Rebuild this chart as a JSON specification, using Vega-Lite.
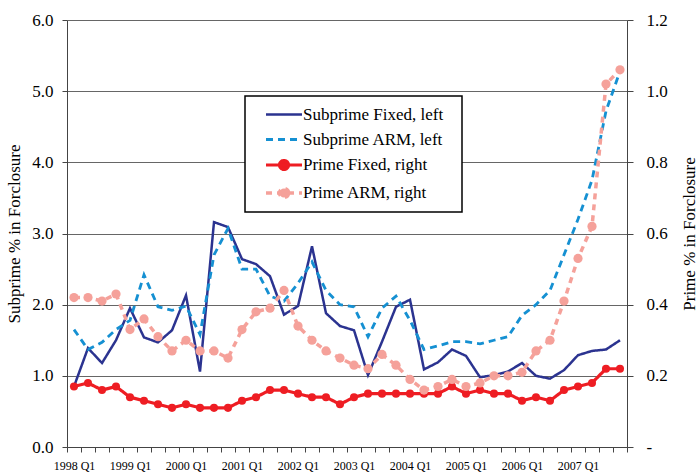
{
  "$schema": "https://vega.github.io/schema/vega-lite/v6.json",
  "width": 560,
  "height": 427,
  "autosize": {"type": "none"},
  "padding": {"left": 67, "top": 20, "right": 71, "bottom": 27},
  "background": "white",
  "config": {
    "view": {"stroke": null},
    "font": "Liberation Serif, Times New Roman, DejaVu Serif, serif",
    "axis": {"labelColor": "#000", "titleColor": "#000", "titleFontWeight": "normal", "domainColor": "#444", "tickColor": "#444"}
  },
  "data": {"values": [
    {"quarter": "1998 Q1", "t": 0, "Subprime Fixed, left": 0.85, "Subprime ARM, left": 1.65, "Prime Fixed, right": 0.17, "Prime ARM, right": 0.42},
    {"quarter": "1998 Q2", "t": 1, "Subprime Fixed, left": 1.39, "Subprime ARM, left": 1.37, "Prime Fixed, right": 0.18, "Prime ARM, right": 0.42},
    {"quarter": "1998 Q3", "t": 2, "Subprime Fixed, left": 1.18, "Subprime ARM, left": 1.47, "Prime Fixed, right": 0.16, "Prime ARM, right": 0.41},
    {"quarter": "1998 Q4", "t": 3, "Subprime Fixed, left": 1.50, "Subprime ARM, left": 1.65, "Prime Fixed, right": 0.17, "Prime ARM, right": 0.43},
    {"quarter": "1999 Q1", "t": 4, "Subprime Fixed, left": 1.95, "Subprime ARM, left": 1.78, "Prime Fixed, right": 0.14, "Prime ARM, right": 0.33},
    {"quarter": "1999 Q2", "t": 5, "Subprime Fixed, left": 1.54, "Subprime ARM, left": 2.42, "Prime Fixed, right": 0.13, "Prime ARM, right": 0.36},
    {"quarter": "1999 Q3", "t": 6, "Subprime Fixed, left": 1.47, "Subprime ARM, left": 1.97, "Prime Fixed, right": 0.12, "Prime ARM, right": 0.31},
    {"quarter": "1999 Q4", "t": 7, "Subprime Fixed, left": 1.64, "Subprime ARM, left": 1.92, "Prime Fixed, right": 0.11, "Prime ARM, right": 0.27},
    {"quarter": "2000 Q1", "t": 8, "Subprime Fixed, left": 2.13, "Subprime ARM, left": 1.98, "Prime Fixed, right": 0.12, "Prime ARM, right": 0.30},
    {"quarter": "2000 Q2", "t": 9, "Subprime Fixed, left": 1.06, "Subprime ARM, left": 1.58, "Prime Fixed, right": 0.11, "Prime ARM, right": 0.27},
    {"quarter": "2000 Q3", "t": 10, "Subprime Fixed, left": 3.16, "Subprime ARM, left": 2.70, "Prime Fixed, right": 0.11, "Prime ARM, right": 0.27},
    {"quarter": "2000 Q4", "t": 11, "Subprime Fixed, left": 3.09, "Subprime ARM, left": 3.07, "Prime Fixed, right": 0.11, "Prime ARM, right": 0.25},
    {"quarter": "2001 Q1", "t": 12, "Subprime Fixed, left": 2.64, "Subprime ARM, left": 2.50, "Prime Fixed, right": 0.13, "Prime ARM, right": 0.33},
    {"quarter": "2001 Q2", "t": 13, "Subprime Fixed, left": 2.57, "Subprime ARM, left": 2.50, "Prime Fixed, right": 0.14, "Prime ARM, right": 0.38},
    {"quarter": "2001 Q3", "t": 14, "Subprime Fixed, left": 2.40, "Subprime ARM, left": 2.12, "Prime Fixed, right": 0.16, "Prime ARM, right": 0.39},
    {"quarter": "2001 Q4", "t": 15, "Subprime Fixed, left": 1.86, "Subprime ARM, left": 2.05, "Prime Fixed, right": 0.16, "Prime ARM, right": 0.44},
    {"quarter": "2002 Q1", "t": 16, "Subprime Fixed, left": 1.98, "Subprime ARM, left": 2.30, "Prime Fixed, right": 0.15, "Prime ARM, right": 0.34},
    {"quarter": "2002 Q2", "t": 17, "Subprime Fixed, left": 2.82, "Subprime ARM, left": 2.60, "Prime Fixed, right": 0.14, "Prime ARM, right": 0.30},
    {"quarter": "2002 Q3", "t": 18, "Subprime Fixed, left": 1.88, "Subprime ARM, left": 2.20, "Prime Fixed, right": 0.14, "Prime ARM, right": 0.27},
    {"quarter": "2002 Q4", "t": 19, "Subprime Fixed, left": 1.70, "Subprime ARM, left": 2.00, "Prime Fixed, right": 0.12, "Prime ARM, right": 0.25},
    {"quarter": "2003 Q1", "t": 20, "Subprime Fixed, left": 1.64, "Subprime ARM, left": 1.97, "Prime Fixed, right": 0.14, "Prime ARM, right": 0.23},
    {"quarter": "2003 Q2", "t": 21, "Subprime Fixed, left": 1.01, "Subprime ARM, left": 1.55, "Prime Fixed, right": 0.15, "Prime ARM, right": 0.22},
    {"quarter": "2003 Q3", "t": 22, "Subprime Fixed, left": 1.48, "Subprime ARM, left": 1.95, "Prime Fixed, right": 0.15, "Prime ARM, right": 0.26},
    {"quarter": "2003 Q4", "t": 23, "Subprime Fixed, left": 1.97, "Subprime ARM, left": 2.12, "Prime Fixed, right": 0.15, "Prime ARM, right": 0.23},
    {"quarter": "2004 Q1", "t": 24, "Subprime Fixed, left": 2.07, "Subprime ARM, left": 1.78, "Prime Fixed, right": 0.15, "Prime ARM, right": 0.19},
    {"quarter": "2004 Q2", "t": 25, "Subprime Fixed, left": 1.09, "Subprime ARM, left": 1.37, "Prime Fixed, right": 0.15, "Prime ARM, right": 0.16},
    {"quarter": "2004 Q3", "t": 26, "Subprime Fixed, left": 1.19, "Subprime ARM, left": 1.42, "Prime Fixed, right": 0.15, "Prime ARM, right": 0.17},
    {"quarter": "2004 Q4", "t": 27, "Subprime Fixed, left": 1.37, "Subprime ARM, left": 1.48, "Prime Fixed, right": 0.17, "Prime ARM, right": 0.19},
    {"quarter": "2005 Q1", "t": 28, "Subprime Fixed, left": 1.28, "Subprime ARM, left": 1.48, "Prime Fixed, right": 0.15, "Prime ARM, right": 0.17},
    {"quarter": "2005 Q2", "t": 29, "Subprime Fixed, left": 0.98, "Subprime ARM, left": 1.45, "Prime Fixed, right": 0.16, "Prime ARM, right": 0.18},
    {"quarter": "2005 Q3", "t": 30, "Subprime Fixed, left": 1.01, "Subprime ARM, left": 1.50, "Prime Fixed, right": 0.15, "Prime ARM, right": 0.20},
    {"quarter": "2005 Q4", "t": 31, "Subprime Fixed, left": 1.06, "Subprime ARM, left": 1.55, "Prime Fixed, right": 0.15, "Prime ARM, right": 0.20},
    {"quarter": "2006 Q1", "t": 32, "Subprime Fixed, left": 1.18, "Subprime ARM, left": 1.85, "Prime Fixed, right": 0.13, "Prime ARM, right": 0.21},
    {"quarter": "2006 Q2", "t": 33, "Subprime Fixed, left": 1.00, "Subprime ARM, left": 2.00, "Prime Fixed, right": 0.14, "Prime ARM, right": 0.27},
    {"quarter": "2006 Q3", "t": 34, "Subprime Fixed, left": 0.96, "Subprime ARM, left": 2.20, "Prime Fixed, right": 0.13, "Prime ARM, right": 0.30},
    {"quarter": "2006 Q4", "t": 35, "Subprime Fixed, left": 1.08, "Subprime ARM, left": 2.70, "Prime Fixed, right": 0.16, "Prime ARM, right": 0.41},
    {"quarter": "2007 Q1", "t": 36, "Subprime Fixed, left": 1.29, "Subprime ARM, left": 3.20, "Prime Fixed, right": 0.17, "Prime ARM, right": 0.53},
    {"quarter": "2007 Q2", "t": 37, "Subprime Fixed, left": 1.35, "Subprime ARM, left": 3.75, "Prime Fixed, right": 0.18, "Prime ARM, right": 0.62},
    {"quarter": "2007 Q3", "t": 38, "Subprime Fixed, left": 1.37, "Subprime ARM, left": 4.72, "Prime Fixed, right": 0.22, "Prime ARM, right": 1.02},
    {"quarter": "2007 Q4", "t": 39, "Subprime Fixed, left": 1.50, "Subprime ARM, left": 5.28, "Prime Fixed, right": 0.22, "Prime ARM, right": 1.06}
  ]},
  "encoding": {
    "x": {
      "field": "t", "type": "quantitative",
      "scale": {"domain": [-0.5, 39.5], "nice": false, "zero": false},
      "axis": {
        "title": null, "grid": false,
        "values": [-0.5, 0, 0.5, 1.5, 2.5, 3.5, 4, 4.5, 5.5, 6.5, 7.5, 8, 8.5, 9.5, 10.5, 11.5, 12, 12.5, 13.5, 14.5, 15.5, 16, 16.5, 17.5, 18.5, 19.5, 20, 20.5, 21.5, 22.5, 23.5, 24, 24.5, 25.5, 26.5, 27.5, 28, 28.5, 29.5, 30.5, 31.5, 32, 32.5, 33.5, 34.5, 35.5, 36, 36.5, 37.5, 38.5, 39.5],
        "labelExpr": "datum.value % 4 === 0 ? (1998 + datum.value / 4) + ' Q1' : ''",
        "tickOpacity": {"condition": {"test": "datum.value % 1 === 0", "value": 0}, "value": 1},
        "tickSize": 5, "labelPadding": 8, "labelFontSize": 12,
        "labelFont": "Liberation Serif, Times New Roman, DejaVu Serif, serif",
        "labelOverlap": false, "labelFlush": false, "labelBound": false
      }
    }
  },
  "layer": [
    {
      "transform": [{"fold": ["Subprime Fixed, left", "Subprime ARM, left"], "as": ["series", "value"]}],
      "mark": {"type": "line"},
      "encoding": {
        "y": {
          "field": "value", "type": "quantitative",
          "scale": {"domain": [0, 6], "nice": false},
          "axis": {"values": [0, 1, 2, 3, 4, 5, 6], "format": ".1f", "title": "Subprime % in Forclosure", "titleFontSize": 17, "labelFontSize": 17, "labelFont": "Liberation Serif, Times New Roman, DejaVu Serif, serif", "titleFont": "Liberation Serif, Times New Roman, DejaVu Serif, serif", "tickSize": 5, "labelPadding": 9, "titlePadding": 8, "grid": true, "gridColor": "#666", "gridWidth": 1}
        },
        "color": {
          "field": "series", "type": "nominal",
          "scale": {"domain": ["Subprime Fixed, left", "Subprime ARM, left", "Prime Fixed, right", "Prime ARM, right"], "range": ["#2b3390", "#1590d2", "#ee1d23", "#f5a19a"]},
          "legend": {
            "title": " ", "titleFontSize": 5, "titleOrient": "right", "titlePadding": 12,
            "orient": "none", "legendX": 178, "legendY": 76,
            "padding": 7, "rowPadding": 5, "labelOffset": 7, "symbolOffset": 20, "symbolSize": 400,
            "labelFont": "Liberation Serif, Times New Roman, DejaVu Serif, serif", "labelFontSize": 17, "labelColor": "#000", "labelLimit": 400,
            "strokeColor": "#000", "fillColor": "#fff",
            "encode": {
              "legend": {"update": {"strokeWidth": {"value": 1.5}}},
              "symbols": {"update": {
                "shape": {"signal": "indexof(datum.value, 'Prime') === 0 ? 'M-1.8,0H1.8M0.45,0A0.45,0.45,0,1,1,-0.45,0A0.45,0.45,0,1,1,0.45,0' : 'M-1.8,0H1.8'"},
                "fill": {"signal": "datum.value === 'Prime Fixed, right' ? '#ee1d23' : datum.value === 'Prime ARM, right' ? '#f5a19a' : 'transparent'"},
                "strokeWidth": {"signal": "datum.value === 'Prime Fixed, right' ? 1.5 : 3.2"}
              }}
            }
          }
        },
        "strokeDash": {
          "field": "series", "type": "nominal",
          "scale": {"domain": ["Subprime Fixed, left", "Subprime ARM, left", "Prime Fixed, right", "Prime ARM, right"], "range": [[1, 0], [7, 5], [1, 0], [6, 5]]}
        },
        "strokeWidth": {
          "field": "series", "type": "nominal",
          "scale": {"domain": ["Subprime Fixed, left", "Subprime ARM, left", "Prime Fixed, right", "Prime ARM, right"], "range": [2.5, 3.5, 1.6, 3]},
          "legend": null
        }
      }
    },
    {
      "transform": [{"fold": ["Prime Fixed, right", "Prime ARM, right"], "as": ["series", "value"]}],
      "encoding": {
        "y": {
          "field": "value", "type": "quantitative",
          "scale": {"domain": [0, 1.2], "nice": false},
          "axis": {"orient": "right", "values": [0, 0.2, 0.4, 0.6, 0.8, 1.0, 1.2], "labelExpr": "datum.value === 0 ? '-' : format(datum.value, '.1f')", "title": "Prime % in Forclosure", "titleAngle": 270, "titleBaseline": "top", "titleFontSize": 17, "labelFontSize": 17, "labelFont": "Liberation Serif, Times New Roman, DejaVu Serif, serif", "titleFont": "Liberation Serif, Times New Roman, DejaVu Serif, serif", "tickSize": 6, "labelPadding": 13, "titlePadding": 14, "grid": false}
        },
        "color": {
          "field": "series", "type": "nominal",
          "scale": {"domain": ["Subprime Fixed, left", "Subprime ARM, left", "Prime Fixed, right", "Prime ARM, right"], "range": ["#2b3390", "#1590d2", "#ee1d23", "#f5a19a"]}
        }
      },
      "layer": [
        {
          "mark": {"type": "line"},
          "encoding": {
            "strokeDash": {
              "field": "series", "type": "nominal",
              "scale": {"domain": ["Subprime Fixed, left", "Subprime ARM, left", "Prime Fixed, right", "Prime ARM, right"], "range": [[1, 0], [7, 5], [1, 0], [6, 5]]}
            },
            "strokeWidth": {
              "field": "series", "type": "nominal",
              "scale": {"domain": ["Subprime Fixed, left", "Subprime ARM, left", "Prime Fixed, right", "Prime ARM, right"], "range": [2.5, 3.5, 1.6, 3]},
              "legend": null
            }
          }
        },
        {
          "mark": {"type": "point", "filled": true, "opacity": 1},
          "encoding": {
            "size": {
              "field": "series", "type": "nominal",
              "scale": {"domain": ["Prime Fixed, right", "Prime ARM, right"], "range": [65, 85]},
              "legend": null
            }
          }
        }
      ]
    }
  ],
  "resolve": {"scale": {"y": "independent"}}
}
